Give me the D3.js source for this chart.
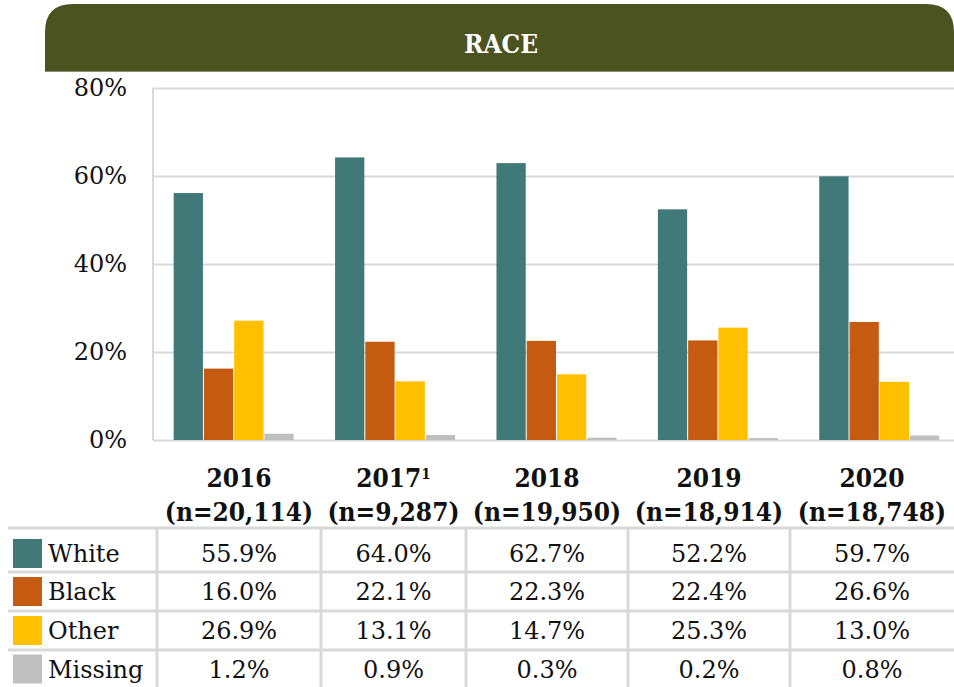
<!DOCTYPE html>
<html lang="en">
<head>
<meta charset="utf-8">
<script src="https://d3js.org/d3.v7.min.js"></script>
<style>
  body { margin: 0; background: #fff; }
  svg { display: block; }
</style>
</head>
<body>
<script>
// data
const years = ["2016", "2017", "2018", "2019", "2020"];
const footnotes = ["", "1", "", "", ""];
const sampleSizes = ["20,114", "9,287", "19,950", "18,914", "18,748"];
const races = ["White", "Black", "Other", "Missing"];
const white = [55.9, 64.0, 62.7, 52.2, 59.7];
const black = [16.0, 22.1, 22.3, 22.4, 26.6];
const other = [26.9, 13.1, 14.7, 25.3, 13.0];
const missing = [1.2, 0.9, 0.3, 0.2, 0.8];
const yTicks = [0, 20, 40, 60, 80];

const seriesValues = [white, black, other, missing];
const colors = ["#417878", "#c55a11", "#ffc000", "#bfbfbf"];

const width = 954, height = 687;
const serif = "'DejaVu Serif', serif";
const serifCond = "'DejaVu Serif Condensed', 'DejaVu Serif', serif";

const svg = d3.select("body").append("svg")
  .attr("width", width)
  .attr("height", height);

// header band
const hx = 45, hy = 4, hb = 71, r = 28;
svg.append("path")
  .attr("d", `M${hx},${hb} L${hx},${hy + r} Q${hx},${hy} ${hx + r},${hy} L${width - r},${hy} Q${width},${hy} ${width},${hy + r} L${width},${hb} Z`)
  .attr("fill", "#4b5320");
svg.append("line")
  .attr("x1", hx).attr("x2", width).attr("y1", hb + 0.5).attr("y2", hb + 0.5)
  .attr("stroke", "#8a8f6a").attr("stroke-width", 1);
svg.append("text")
  .attr("x", 501).attr("y", 53)
  .attr("text-anchor", "middle")
  .attr("fill", "#fff")
  .style("font-family", serifCond)
  .style("font-stretch", "condensed")
  .style("font-weight", "bold")
  .style("font-size", "26px")
  .text("RACE");

// scales
const plotLeft = 153, plotRight = 960;
const y = d3.scaleLinear().domain([0, 80]).range([440, 88]);
const x0 = d3.scaleBand().domain(years).range([plotLeft, plotRight])
  .paddingInner(0.25).paddingOuter(0.125);
const x1 = d3.scaleBand().domain(races).range([0, x0.bandwidth()]);

// gridlines + y labels
const yAxis = svg.append("g")
  .attr("transform", `translate(${plotLeft},0)`)
  .call(d3.axisLeft(y).tickValues(yTicks).tickFormat(d => d + "%")
    .tickSize(-(width - plotLeft)).tickPadding(26));
yAxis.select(".domain").remove();
yAxis.selectAll(".tick line").attr("stroke", "#d9d9d9").attr("stroke-width", 2);
yAxis.selectAll(".tick text")
  .attr("fill", "#111")
  .style("font-family", serif)
  .style("font-size", "24px");

svg.append("line")
  .attr("x1", plotLeft).attr("x2", plotLeft)
  .attr("y1", y(80)).attr("y2", y(0))
  .attr("stroke", "#d9d9d9").attr("stroke-width", 2);

// bars
const groups = svg.append("g").selectAll("g")
  .data(years)
  .join("g")
  .attr("transform", d => `translate(${x0(d)},0)`);

groups.selectAll("rect")
  .data((d, i) => races.map((race, k) => ({ race, value: seriesValues[k][i], color: colors[k] })))
  .join("rect")
  .attr("x", d => x1(d.race) + 0.5)
  .attr("width", x1.bandwidth() - 1)
  .attr("y", d => y(d.value) - 1)
  .attr("height", d => y(0) - y(d.value) + 1)
  .attr("fill", d => d.color);

// table
const colEdges = [157, 321, 466, 628, 790, 954];
const tableLeft = 8;
const rowLines = [528, 572, 611, 650, 689];
const rowCenters = [553.5, 591.5, 630.5, 669];
const gridColor = "#d9d9d9";

// category labels (column headers)
const header = svg.append("g");
years.forEach((yr, i) => {
  const cx = (colEdges[i] + colEdges[i + 1]) / 2;
  const t = header.append("text")
    .attr("x", cx).attr("y", 487)
    .attr("text-anchor", "middle")
    .attr("fill", "#111")
    .style("font-family", serifCond)
    .style("font-stretch", "condensed")
    .style("font-weight", "bold")
    .style("font-size", "26px");
  t.append("tspan").text(yr);
  if (footnotes[i]) {
    t.append("tspan")
      .attr("dy", -8)
      .style("font-size", "15px")
      .text(footnotes[i]);
  }
  header.append("text")
    .attr("x", cx).attr("y", 521)
    .attr("text-anchor", "middle")
    .attr("fill", "#111")
    .style("font-family", serifCond)
    .style("font-stretch", "condensed")
    .style("font-weight", "bold")
    .style("font-size", "26px")
    .text(`(n=${sampleSizes[i]})`);
});

const table = svg.append("g");
table.selectAll("line.h")
  .data(rowLines)
  .join("line")
  .attr("class", "h")
  .attr("x1", tableLeft).attr("x2", width)
  .attr("y1", d => d).attr("y2", d => d)
  .attr("stroke", gridColor).attr("stroke-width", 3);
table.selectAll("line.v")
  .data(colEdges.slice(0, 5))
  .join("line")
  .attr("class", "v")
  .attr("x1", d => d).attr("x2", d => d)
  .attr("y1", rowLines[0]).attr("y2", height)
  .attr("stroke", gridColor).attr("stroke-width", 3);

races.forEach((race, k) => {
  const cy = rowCenters[k];
  table.append("rect")
    .attr("x", 13).attr("y", cy - 14.5)
    .attr("width", 29).attr("height", 29)
    .attr("fill", colors[k]);
  table.append("text")
    .attr("x", 48).attr("y", cy + 8.5)
    .attr("fill", "#111")
    .style("font-family", serif)
    .style("font-size", "24px")
    .text(race);
  seriesValues[k].forEach((v, i) => {
    table.append("text")
      .attr("x", (colEdges[i] + colEdges[i + 1]) / 2)
      .attr("y", cy + 8.5)
      .attr("text-anchor", "middle")
      .attr("fill", "#111")
      .style("font-family", serif)
      .style("font-size", "24px")
      .text(v.toFixed(1) + "%");
  });
});
</script>
</body>
</html>
